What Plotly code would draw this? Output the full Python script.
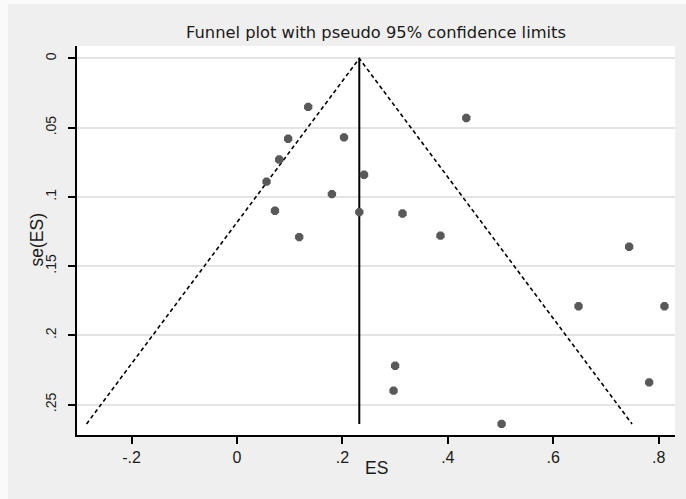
import plotly.graph_objects as go

# Study effect sizes and standard errors
es = [0.135, 0.435, 0.203, 0.097, 0.080, 0.241, 0.056, 0.180, 0.072, 0.232,
      0.314, 0.118, 0.386, 0.744, 0.648, 0.811, 0.300, 0.782, 0.297, 0.502]
se = [0.035, 0.043, 0.057, 0.058, 0.073, 0.084, 0.089, 0.098, 0.110, 0.111,
      0.112, 0.129, 0.128, 0.136, 0.179, 0.179, 0.222, 0.234, 0.240, 0.264]

pooled = 0.232
se_max = 0.264
z = 1.96

x_ticks = [-0.2, 0, 0.2, 0.4, 0.6, 0.8]
x_labels = ["-.2", "0", ".2", ".4", ".6", ".8"]
y_ticks = [0, 0.05, 0.1, 0.15, 0.2, 0.25]
y_labels = ["0", ".05", ".1", ".15", ".2", ".25"]

font_family = "Liberation Sans, Arial, sans-serif"
text_color = "#1a1a1a"

W, H = 686, 499
ML, MR, MT, MB = 77, 11, 46, 64
PW, PH = W - ML - MR, H - MT - MB

def px_x(px):
    return (px - ML) / PW

def px_y(py):
    return (H - MB - py) / PH

fig = go.Figure()

# pseudo 95% confidence limits
fig.add_trace(go.Scatter(
    x=[pooled - z * se_max, pooled, pooled + z * se_max],
    y=[se_max, 0, se_max],
    mode="lines",
    line=dict(color="black", width=1.6, dash="4px,3px"),
    hoverinfo="skip", showlegend=False))

# pooled estimate line
fig.add_trace(go.Scatter(
    x=[pooled, pooled], y=[0, se_max],
    mode="lines", line=dict(color="black", width=2),
    hoverinfo="skip", showlegend=False))

# studies
fig.add_trace(go.Scatter(
    x=es, y=se, mode="markers",
    marker=dict(symbol="octagon", size=9, color="#595959", line=dict(width=0)),
    showlegend=False))

fig.update_layout(
    width=W, height=H,
    margin=dict(l=ML, r=MR, t=MT, b=MB),
    paper_bgcolor="#fafafa",
    plot_bgcolor="white",
    font=dict(family=font_family, color=text_color, size=16),
    title=dict(text="Funnel plot with pseudo 95% confidence limits",
               x=0.5, xref="paper", xanchor="center",
               y=1 - 32 / H, yref="container", yanchor="middle",
               font=dict(family="DejaVu Sans, sans-serif", size=16.3,
                         color=text_color)),
    xaxis=dict(range=[-0.3036, 0.831], tickvals=x_ticks, ticktext=x_labels,
               showgrid=False, zeroline=False, showline=True,
               linecolor="black", linewidth=2, ticks="outside",
               ticklen=7, tickwidth=2, tickcolor="black",
               tickfont=dict(size=16)),
    yaxis=dict(range=[0.272, -0.009], tickvals=y_ticks, ticktext=y_labels,
               showgrid=True, gridcolor="#e4e4e4", gridwidth=1.5,
               zeroline=False, showline=True,
               linecolor="black", linewidth=2, ticks="outside",
               ticklen=7, tickwidth=2, tickcolor="black",
               ticklabelstandoff=6,
               tickangle=-90, tickfont=dict(size=14)),
    shapes=[
        dict(type="rect", xref="paper", yref="paper", layer="below",
             x0=px_x(8), x1=px_x(W + 2), y0=px_y(4), y1=px_y(H + 2),
             fillcolor="#efefef", line=dict(width=0)),
        dict(type="rect", xref="paper", yref="paper", layer="below",
             x0=0, x1=1, y0=0, y1=1,
             fillcolor="white", line=dict(width=0)),
    ],
    annotations=[
        dict(text="ES", xref="paper", yref="paper",
             x=0.5, y=px_y(468), xanchor="center", yanchor="middle",
             showarrow=False, font=dict(size=17.5)),
        dict(text="se(ES)", xref="paper", yref="paper",
             x=px_x(36), y=0.5, xanchor="center", yanchor="middle",
             textangle=-90, showarrow=False, font=dict(size=17.5)),
    ],
)

fig.write_html("out.html")
